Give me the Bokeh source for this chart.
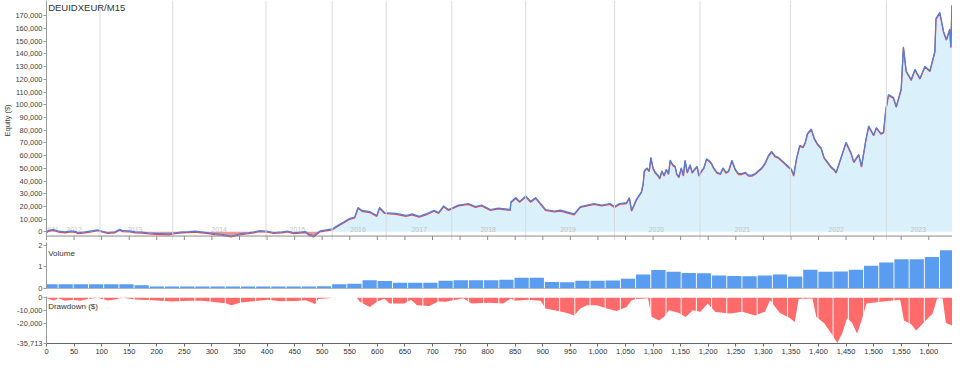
import numpy as np
from bokeh.plotting import figure
from bokeh.layouts import column
from bokeh.models import (Range1d, NumeralTickFormatter, SingleIntervalTicker,
                          FixedTicker, Span, Label, ColumnDataSource)
from bokeh.core.properties import value
from bokeh.transform import dodge
from bokeh.embed import file_html
from bokeh.resources import INLINE

# ---------------- data ----------------
symbol = "DEUIDXEUR/M15"
n_trades = 1643

eq_trade = [0, 4, 13, 22, 34, 43, 52, 57, 70, 84,
            93, 102, 111, 124, 133, 138, 151, 161, 174, 186,
            197, 210, 222, 233, 246, 258, 269, 281, 294, 305,
            317, 326, 335, 344, 353, 366, 376, 385, 401, 412,
            428, 437, 448, 461, 470, 475, 484, 491, 496, 518,
            527, 538, 550, 559, 565, 572, 586, 599, 604, 613,
            634, 652, 663, 676, 688, 703, 711, 720, 729, 747,
            765, 778, 789, 805, 819, 841, 842, 851, 858, 869,
            878, 887, 905, 921, 932, 957, 968, 993, 1007, 1022,
            1030, 1039, 1052, 1057, 1061, 1070, 1079,
            1082, 1084, 1089, 1093, 1096, 1100, 1104, 1109, 1112, 1116,
            1120, 1124, 1128, 1131, 1136, 1140, 1143, 1147, 1151, 1155,
            1158, 1162, 1167, 1171, 1175, 1180, 1183, 1188, 1192, 1197,
            1201, 1206, 1210, 1216, 1222, 1227, 1232, 1237, 1243, 1249,
            1255, 1261, 1267, 1273, 1279, 1285, 1291, 1297, 1303, 1309,
            1315, 1321, 1327, 1333, 1339, 1345, 1351, 1355, 1360, 1366,
            1372, 1376, 1380, 1387, 1392, 1398, 1405, 1410, 1416, 1422,
            1428,
            1432, 1441, 1450, 1459, 1464, 1473, 1478, 1486,
            1491, 1500, 1505, 1513, 1518, 1522, 1527, 1536, 1541, 1550,
            1554, 1559, 1568, 1575, 1584, 1593, 1602, 1611, 1613, 1620,
            1627, 1632, 1638, 1640, 1642]
eq_value = [0, 1200, 1900, 500, 0, 700, 400, -700, 0, 900,
            1600, 500, -500, 0, 2100, 900, 700, 0, -200, -900,
            -1200, -1400, -1600, -700, 0, 200, 500, 0, -700, -1400,
            -1900, -2600, -3300, -2300, -1400, -700, 0, 900, 500, -500,
            0, 700, -700, -200, 200, -1600, -3300, -1000, 700, 2300,
            4700, 7500, 10600, 11700, 19200, 16900, 15900, 12900, 19200, 15200,
            14500, 12900, 14100, 12200, 14100, 16900, 15200, 20400, 17600, 21100,
            22300, 19900, 21100, 17600, 18700, 17600, 23500, 27000, 24000, 28200,
            24000, 27000, 17600, 16400, 17100, 14100, 19900, 22300, 21100, 22300,
            19900, 22300, 23000, 27000, 16900, 25800, 31700,
            38000, 48100, 50400, 48100, 58700, 50400, 46900, 44600, 42300, 48100,
            44600, 49300, 45800, 56400, 52800, 51600, 45800, 43400, 50400, 44600,
            56400, 46900, 52800, 46900, 49300, 51600, 44600, 48100, 50400, 57500,
            56400, 54000, 50400, 46900, 45800, 50400, 46900, 48100, 56400, 49300,
            45800, 45800, 46900, 44600, 44600, 45800, 48100, 50400, 54000, 59900,
            63400, 59900, 58700, 56400, 54000, 51600, 49300, 44600, 57500, 68100,
            66900, 70500, 77500, 81000, 74000, 69300, 65800, 58700, 55200, 51600,
            49300,
            46900, 58700, 70500, 62200, 55200, 61000, 51600, 72800,
            83300, 76300, 82100, 77500, 78600, 96200, 108000, 105700, 98600, 112700,
            145500, 126800, 119800, 127900, 120900, 130300, 126800, 142000, 167900, 172600,
            157300, 151500, 159600, 145500, 178400]

dd_trade = [0, 4, 13, 22, 34, 48, 61, 75, 93, 111,
            129, 138, 161, 192, 228, 258, 281, 308, 326, 335,
            353, 380, 401, 425, 452, 470, 482, 487, 493, 505,
            520, 563, 568, 586, 600, 613, 622, 649, 661, 672,
            694, 711, 724, 742, 756, 771, 801, 828, 842, 849,
            873, 896, 905, 928, 944, 957, 968, 980, 998, 1016,
            1034, 1052, 1061, 1070, 1091, 1097, 1111, 1120, 1129, 1147,
            1159, 1172, 1186, 1199, 1213, 1240, 1262, 1285, 1303, 1312,
            1330, 1348, 1357, 1364, 1389, 1396, 1410, 1423, 1434, 1443,
            1452, 1461, 1470, 1478, 1487, 1513, 1548, 1555, 1568, 1577,
            1590, 1607, 1615, 1625, 1631, 1643]
dd_value = [0, -1000, -2200, -500, -2400, -1500, -2400, -1000, 0, -2200,
            -1000, 0, -1300, -2000, -3000, -2400, -2400, -3500, -4500, -5900,
            -3800, -2500, -1500, -2700, -2500, -2000, -4000, -5100, -1000, -500,
            0, 0, -3200, -7200, -3000, -800, -4500, -4500, -1500, -6000,
            -6500, -3000, -3200, -1500, -300, -4500, -4000, -4500, -500, -2400,
            -1500, -2400, -8500, -10400, -12000, -13900, -8500, -6000, -5900, -8500,
            -10400, -7200, -1900, -1000, -300, -15000, -17900, -15000, -9900, -12000,
            -15200, -9900, -11000, -4500, -11200, -12500, -11000, -13900, -11000, -1900,
            -12000, -16000, -19200, -1000, -500, -15200, -20000, -28000, -35700, -28000,
            -16000, -20000, -28500, -18000, -4500, -3200, -1500, -17900, -21000, -25900,
            -20000, -12500, -500, -300, -20000, -22000]
dd_min = -35713

volume_blocks = [0.2, 0.2, 0.2, 0.2, 0.2, 0.2, 0.15, 0.09, 0.09, 0.09,
                 0.09, 0.09, 0.09, 0.09, 0.09, 0.09, 0.09, 0.09, 0.1, 0.2,
                 0.22, 0.38, 0.35, 0.27, 0.27, 0.27, 0.36, 0.38, 0.38, 0.38,
                 0.4, 0.5, 0.5, 0.3, 0.29, 0.36, 0.36, 0.37, 0.45, 0.65,
                 0.85, 0.77, 0.72, 0.7, 0.6, 0.58, 0.57, 0.6, 0.65, 0.55,
                 0.86, 0.77, 0.78, 0.86, 1.05, 1.2, 1.35, 1.35, 1.45, 1.76]

year_lines = [97, 229, 398, 518, 616, 735, 869, 1030, 1185, 1349, 1523]
year_labels = ["2011", "2012", "2013", "2014", "2015", "2016", "2017",
               "2018", "2019", "2020", "2021", "2022", "2023"]
year_label_pos = [9, 50, 160, 313, 455, 565, 676, 801, 946, 1106, 1262, 1432, 1581]

equity_ticks = [0, 10000, 20000, 30000, 40000, 50000, 60000, 70000, 80000,
                90000, 100000, 110000, 120000, 130000, 140000, 150000, 160000, 170000]
volume_ticks = [0, 1, 2]
dd_ticks = [0, -10000, -20000, dd_min]
trade_tick_step = 50

assert len(eq_trade) == len(eq_value)
assert len(dd_trade) == len(dd_value)

# ---------------- styling ----------------
FONT = "Liberation Sans"
W = 952
LB = 40
TICK_FS = "7.5px"
xr = Range1d(0, n_trades)


def base(height, y_range, top=0, bottom=0):
    p = figure(width=W, height=height, x_range=xr, y_range=y_range,
               output_backend="svg", toolbar_location=None,
               min_border_left=LB, min_border_right=0,
               min_border_top=top, min_border_bottom=bottom)
    p.grid.visible = False
    p.outline_line_color = None
    p.background_fill_color = "white"
    for ax in p.yaxis:
        ax.major_label_text_font = FONT
        ax.major_label_text_font_size = TICK_FS
        ax.major_label_text_color = "#444444"
        ax.major_label_standoff = 1
        ax.major_tick_out = 3
        ax.major_tick_in = 0
        ax.minor_tick_line_color = None
        ax.axis_line_color = "#9a9a9a"
        ax.major_tick_line_color = "#9a9a9a"
    return p


# ---------------- equity panel ----------------
eq_arr = np.array(eq_value, dtype=float)
eq_src = ColumnDataSource(dict(t=eq_trade, v=eq_value,
                               pos=np.maximum(eq_arr, 0),
                               neg=np.minimum(eq_arr, 0)))

EQ_BOTTOM = -6800     # frame bottom (value)
EQ_AXIS = -3300       # level of the panel's bottom axis line
p1 = base(240, Range1d(EQ_BOTTOM, 182000))
p1.xaxis.visible = False
p1.yaxis.ticker = FixedTicker(ticks=equity_ticks)
p1.yaxis.formatter = NumeralTickFormatter(format="0,0")
p1.yaxis.axis_label = "Equity ($)"
p1.yaxis.axis_label_text_font = FONT
p1.yaxis.axis_label_text_font_size = "7.5px"
p1.yaxis.axis_label_text_font_style = "normal"
p1.yaxis.axis_label_text_color = "#444444"
p1.yaxis.axis_label_standoff = 0

p1.varea(x="t", y1=0, y2="pos", source=eq_src, fill_color="#daf1fc")
p1.varea(x="t", y1=0, y2="neg", source=eq_src, fill_color="#ee9595")
for yl in year_lines:
    p1.add_layout(Span(location=yl, dimension="height",
                       line_color="#dadada", line_width=1))
p1.text(x=year_label_pos, y=-400, text=year_labels,
        text_font=value(FONT), text_font_size="7px", text_color="#c4c4c4",
        text_align="center", text_baseline="bottom")
p1.line(x="t", y=dodge("v", -700, range=p1.y_range), source=eq_src,
        line_color="#e04a55", line_width=1.3)
p1.line(x="t", y="v", source=eq_src, line_color="#4d7fdc", line_width=1.2)

# bottom axis line of the equity panel with its downward tick marks
p1.add_layout(Span(location=EQ_AXIS, dimension="width",
                   line_color="#8a8a8a", line_width=1))
tick_x = np.arange(0, n_trades + 1, trade_tick_step)
p1.segment(x0=tick_x, y0=EQ_AXIS, x1=tick_x, y1=EQ_BOTTOM,
           line_color="#8a8a8a", line_width=1)

p1.add_layout(Label(x=3, y=181000, text=symbol, text_font=FONT,
                    text_font_size="9.5px", text_color="#333333",
                    text_baseline="top", text_align="left"))

# ---------------- volume panel ----------------
nb = len(volume_blocks)
edges = np.concatenate([[0.0], 21 + 27.56 * np.arange(nb)])
left = edges
right = np.append(edges[1:], edges[-1] + 27.56)
vol_src = ColumnDataSource(dict(x=(left + right) / 2,
                                w=(right - left) - 1.7,
                                top=volume_blocks))

p2 = base(52, Range1d(0, 2.12), top=2, bottom=4)
p2.xaxis.visible = False
p2.yaxis.ticker = FixedTicker(ticks=volume_ticks)
p2.vbar(x="x", width="w", top="top", bottom=0, source=vol_src,
        fill_color="#5a9cf0", line_color=None)
p2.add_layout(Span(location=0, dimension="width", line_color="#8a8a8a", line_width=1))
p2.add_layout(Label(x=3, y=1.8, text="Volume", text_font=FONT,
                    text_font_size="8px", text_color="#333333",
                    text_baseline="top", text_align="left"))

# ---------------- drawdown panel ----------------
dd_src = ColumnDataSource(dict(t=dd_trade, v=dd_value))
p3 = base(64, Range1d(-36100, 1000), top=4)
p3.yaxis.ticker = FixedTicker(ticks=dd_ticks)
p3.yaxis.formatter = NumeralTickFormatter(format="0,0")
p3.varea(x="t", y1=0, y2="v", source=dd_src, fill_color="#ff6a6a")
sep = edges[1:]
p3.segment(x0=sep, y0=-40000, x1=sep, y1=2000, line_color="white", line_width=1)
p3.add_layout(Label(x=3, y=-3000, text="Drawdown ($)", text_font=FONT,
                    text_font_size="8px", text_color="#333333",
                    text_baseline="top", text_align="left"))
xa = p3.xaxis[0]
xa.ticker = SingleIntervalTicker(interval=trade_tick_step)
xa.formatter = NumeralTickFormatter(format="0,0")
xa.major_label_text_font = FONT
xa.major_label_text_font_size = TICK_FS
xa.major_label_text_color = "#333333"
xa.major_label_standoff = 1
xa.major_tick_out = 3
xa.major_tick_in = 0
xa.minor_tick_line_color = None
xa.axis_line_color = "#666666"
xa.major_tick_line_color = "#666666"

layout = column(p1, p2, p3, spacing=0)
open("out.html", "w").write(file_html(layout, INLINE))
